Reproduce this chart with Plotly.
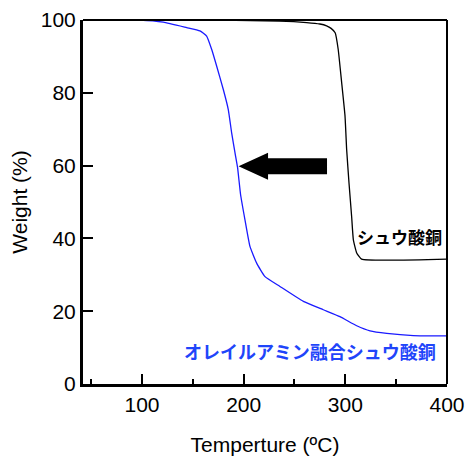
import plotly.graph_objects as go

# Black curve: シュウ酸銅
cu_temp = [42, 150, 235, 262, 275, 281.6, 286, 290, 293, 296.4, 299.7, 301.3, 303.6, 306.2, 307.9, 311.2, 316, 400]
cu_weight = [100, 100, 99.7, 99.3, 98.9, 98.4, 97.7, 96.5, 91.9, 82.8, 73.6, 64.4, 55.3, 46, 39.6, 36, 34.3, 34.3]

# Blue curve: オレイルアミン融合シュウ酸銅
oa_temp = [42, 98, 121, 144, 157, 163.6, 168.6, 173.5, 180, 184.9, 188.2, 191.5, 194, 197, 201.3, 206.2,
           212.8, 221, 235.7, 258.7, 278.3, 294.7, 311.2, 324.3, 340.7, 366.9, 400]
oa_weight = [100, 100, 99.4, 97.9, 97, 95.6, 91.9, 87.3, 80.9, 75.4, 69, 63.5, 59.5, 52, 45.1, 37.8,
             33.2, 29.5, 26.8, 22.7, 20.4, 18.5, 16, 14.6, 13.9, 13.3, 13.2]

x_ticks = [100, 200, 300, 400]
x_minor_ticks = [50, 150, 250, 350]
y_ticks = [0, 20, 40, 60, 80, 100]

label_cu = "シュウ酸銅"
label_oa = "オレイルアミン融合シュウ酸銅"

# Arrow (data units)
arrow_tip_x, arrow_tail_x, arrow_head_base_x = 195, 282, 224
arrow_y, arrow_shaft_half, arrow_head_half = 59.8, 2.2, 3.7

fig = go.Figure()
fig.add_trace(go.Scatter(x=cu_temp, y=cu_weight, mode="lines",
                         line=dict(color="black", width=1.3, shape="spline", smoothing=0.4),
                         showlegend=False))
fig.add_trace(go.Scatter(x=oa_temp, y=oa_weight, mode="lines",
                         line=dict(color="#1a1aff", width=1.3, shape="spline", smoothing=0.4),
                         showlegend=False))

path = (f"M {arrow_tip_x},{arrow_y} "
        f"L {arrow_head_base_x},{arrow_y + arrow_head_half} "
        f"L {arrow_head_base_x},{arrow_y + arrow_shaft_half} "
        f"L {arrow_tail_x},{arrow_y + arrow_shaft_half} "
        f"L {arrow_tail_x},{arrow_y - arrow_shaft_half} "
        f"L {arrow_head_base_x},{arrow_y - arrow_shaft_half} "
        f"L {arrow_head_base_x},{arrow_y - arrow_head_half} Z")
fig.add_shape(type="path", path=path, xref="x", yref="y",
              fillcolor="black", line=dict(color="black", width=0))

# top and right frame
fig.add_shape(type="line", xref="paper", yref="paper", x0=0, x1=1, y0=1, y1=1,
              line=dict(color="black", width=2))
fig.add_shape(type="line", xref="paper", yref="paper", x0=1, x1=1, y0=0, y1=1,
              line=dict(color="black", width=2))

cjk = "Noto Sans CJK JP"
fig.add_annotation(x=309.5, y=40.5, text=f"<b>{label_cu}</b>", showarrow=False,
                   xanchor="left", yanchor="middle",
                   font=dict(family=cjk, size=17, color="black"))
fig.add_annotation(x=139, y=9.1, text=f"<b>{label_oa}</b>", showarrow=False,
                   xanchor="left", yanchor="middle",
                   font=dict(family=cjk, size=18, color="#1f45fa"))

fig.update_layout(
    template="none",
    width=468, height=456,
    margin=dict(l=83, r=21, t=20, b=72, autoexpand=False),
    paper_bgcolor="white", plot_bgcolor="white",
    font=dict(family="Liberation Sans, Arial", size=21, color="black"),
    xaxis=dict(range=[42, 400], tickvals=x_ticks, ticks="inside", ticklen=10, tickwidth=2,
               tickcolor="black", showgrid=False, zeroline=False, automargin=False,
               showline=True, linecolor="black", linewidth=3,
               minor=dict(tickvals=x_minor_ticks, ticks="inside", ticklen=5,
                          tickwidth=2, tickcolor="black"),
               title=dict(text="Temperture (ºC)", font=dict(size=21), standoff=24)),
    yaxis=dict(range=[0, 100], tickvals=y_ticks, ticks="inside", ticklen=10, tickwidth=2,
               tickcolor="black", showgrid=False, zeroline=False, automargin=False,
               showline=True, linecolor="black", linewidth=3,
               title=dict(text="Weight (%)", font=dict(size=21), standoff=8)),
)

# remove the browser's default body margin so the 468x456 figure fills the window exactly
fig.write_html("out.html",
               config={"displayModeBar": False},
               post_script="document.body.style.margin='0';document.body.style.overflow='hidden';")
